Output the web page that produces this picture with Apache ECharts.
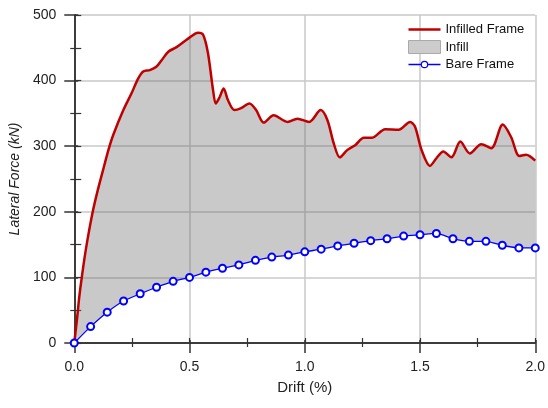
<!DOCTYPE html>
<html><head><meta charset="utf-8">
<script src="https://cdn.jsdelivr.net/npm/echarts@6/dist/echarts.min.js"></script>
<style>html,body{margin:0;padding:0;background:#fff}#c{width:548px;height:408px}</style>
</head><body><div id="c"></div>
<script>
// Infilled frame envelope (drift %, lateral force kN)
const redDrift = [0,0.013,0.022,0.033,0.050,0.079,0.102,0.129,0.148,0.169,0.213,0.249,0.277,0.299,0.328,0.356,0.379,0.408,0.444,0.494,0.537,0.559,0.580,0.602,0.614,0.631,0.648,0.667,0.695,0.724,0.760,0.789,0.822,0.865,0.925,0.968,1.019,1.069,1.098,1.126,1.152,1.184,1.220,1.256,1.292,1.349,1.407,1.457,1.478,1.507,1.543,1.572,1.601,1.636,1.675,1.716,1.766,1.809,1.859,1.895,1.931,1.960,2.0];
const redForce = [0,40,71,101,142,198,233,269,294,317,355,381,403,414,416,421,431,444,451,464,473,470,442,386,365,375,388,370,355,358,365,355,336,347,337,342,337,355,340,304,283,294,302,313,313,326,325,337,330,294,270,282,292,283,307,289,303,297,333,314,285,287,278];
// Bare frame
const bareDrift = [0,0.071,0.143,0.214,0.286,0.357,0.429,0.5,0.571,0.643,0.714,0.786,0.857,0.929,1.0,1.071,1.143,1.214,1.286,1.357,1.429,1.5,1.571,1.643,1.714,1.786,1.857,1.929,2.0];
const bareForce = [0,25,47,64,75,85,94,100,108,114,119,126,131,134,139,143,148,152,156,159,163,165,167,159,155,155,149,145,145];
const xTicks = ['0.0','0.5','1.0','1.5','2.0'];
const yTicks = ['0','100','200','300','400','500'];

const FONT = '"Liberation Sans", Arial, Helvetica, sans-serif';
const red = redDrift.map((d,i)=>[d, redForce[i]]);
const bare = bareDrift.map((d,i)=>[d, bareForce[i]]);
const AX = '#333';
const SMOOTH = 0.3;

const lineIcon = 'path://M0,0 L0,0 M32,13 L32,13 M0,5.3 L32,5.3 L32,7.7 L0,7.7 Z';
const ringIcon = 'path://M0,0 L0,0 M32,13 L32,13 M0,5.8 L12.4,5.8 L12.4,7.2 L0,7.2 Z M19.6,5.8 L32,5.8 L32,7.2 L19.6,7.2 Z M12.2,6.5 A3.8,3.8 0 1,1 19.8,6.5 A3.8,3.8 0 1,1 12.2,6.5 Z M13.4,6.5 A2.6,2.6 0 1,0 18.6,6.5 A2.6,2.6 0 1,0 13.4,6.5 Z';

const chart = echarts.init(document.getElementById('c'), null, {renderer:'canvas'});
const option = {
  animation:false,
  backgroundColor:'#fff',
  grid:{left:72,right:12,top:15,bottom:65},
  legend:{
    orient:'vertical', left:403, top:18, itemWidth:32, itemHeight:13, itemGap:4,
    textStyle:{fontSize:13, fontFamily:FONT, color:'#111'},
    data:[
      {name:'Infilled Frame', icon:lineIcon, itemStyle:{color:'#c00000', borderWidth:0}},
      {name:'Infill', icon:'rect', itemStyle:{color:'#cccccc', borderColor:'#aaaaaa', borderWidth:1}},
      {name:'Bare Frame', icon:ringIcon, itemStyle:{color:'#0000ff', borderWidth:0}}
    ]
  },
  xAxis:[
    {type:'value', min:0, max:2, interval:0.5, position:'bottom',
     axisLine:{lineStyle:{color:AX,width:1.5}},
     axisTick:{length:10, lineStyle:{color:AX,width:1.5}},
     minorTick:{show:true, splitNumber:2, length:4, lineStyle:{color:AX,width:1.2}},
     axisLabel:{margin:17, fontSize:14, color:'#222', fontFamily:FONT, formatter:(v)=>xTicks[Math.round(v*2)]},
     splitLine:{show:true, lineStyle:{color:'#c8c8c8', width:1.5}},
     name:'Drift (%)', nameLocation:'middle', nameGap:37,
     nameTextStyle:{fontSize:15, color:'#222', fontFamily:FONT}},
    {type:'value', min:0, max:2, interval:0.25, position:'top',
     axisLine:{show:true, lineStyle:{color:AX,width:1.5}},
     axisTick:{length:5, lineStyle:{color:AX,width:1.2}},
     axisLabel:{show:false}, splitLine:{show:false}},
    {type:'value', min:0, max:2, interval:0.5, position:'bottom',
     axisLine:{show:false}, axisTick:{inside:true, length:3, lineStyle:{color:AX,width:1.5}},
     axisLabel:{show:false}, splitLine:{show:false}}
  ],
  yAxis:[
    {type:'value', min:0, max:500, interval:100, position:'left',
     axisLine:{show:true, lineStyle:{color:AX,width:1.5}},
     axisTick:{show:true, length:10, lineStyle:{color:AX,width:1.5}},
     minorTick:{show:true, splitNumber:2, length:4, lineStyle:{color:AX,width:1.2}},
     axisLabel:{margin:18, fontSize:14, color:'#222', fontFamily:FONT, formatter:(v)=>yTicks[Math.round(v/100)]},
     splitLine:{show:true, lineStyle:{color:'#c8c8c8', width:1.5}},
     name:'Lateral Force (kN)', nameLocation:'middle', nameGap:43,
     nameTextStyle:{fontSize:14, fontStyle:'italic', color:'#222', fontFamily:FONT}},
    {type:'value', min:0, max:500, interval:50, position:'right',
     axisLine:{show:true, lineStyle:{color:AX,width:1.5}},
     axisTick:{show:true, length:7, lineStyle:{color:AX,width:1.2}},
     axisLabel:{show:false}, splitLine:{show:false}},
    {type:'value', min:0, max:500, interval:100, position:'left',
     axisLine:{show:false}, axisTick:{show:true, inside:true, length:4, lineStyle:{color:AX,width:1.5}},
     axisLabel:{show:false}, splitLine:{show:false}}
  ],
  series:[
    {name:'Infill', type:'custom', xAxisIndex:0, yAxisIndex:0, z:1,
     itemStyle:{color:'#cccccc'},
     data:[[0,0]],
     renderItem:function(params, api){
       if (params.dataIndex !== 0) return;
       const top = red.map(p=>api.coord(p));
       const bot = bare.slice().reverse().map(p=>api.coord(p));
       const pts = [top[0]].concat(top, [top[top.length-1]], [bot[0]], bot, [bot[bot.length-1]]);
       return {type:'polygon', shape:{points:pts, smooth:SMOOTH},
               style:{fill:'rgba(100,100,100,0.35)', stroke:null}};
     }},
    {name:'Infilled Frame', type:'line', xAxisIndex:0, yAxisIndex:0, z:3,
     data:red, smooth:SMOOTH, symbol:'none', showSymbol:false,
     lineStyle:{color:'#c00000', width:2.5}, itemStyle:{color:'#c00000'}},
    {name:'Bare Frame', type:'line', xAxisIndex:0, yAxisIndex:0, z:4,
     data:bare, smooth:0.2, symbol:'emptyCircle', symbolSize:7,
     lineStyle:{color:'#0000ff', width:1.3},
     itemStyle:{color:'#0000ff', borderColor:'#0000ff', borderWidth:1.1}}
  ]
};
chart.setOption(option);
</script>
</body></html>
